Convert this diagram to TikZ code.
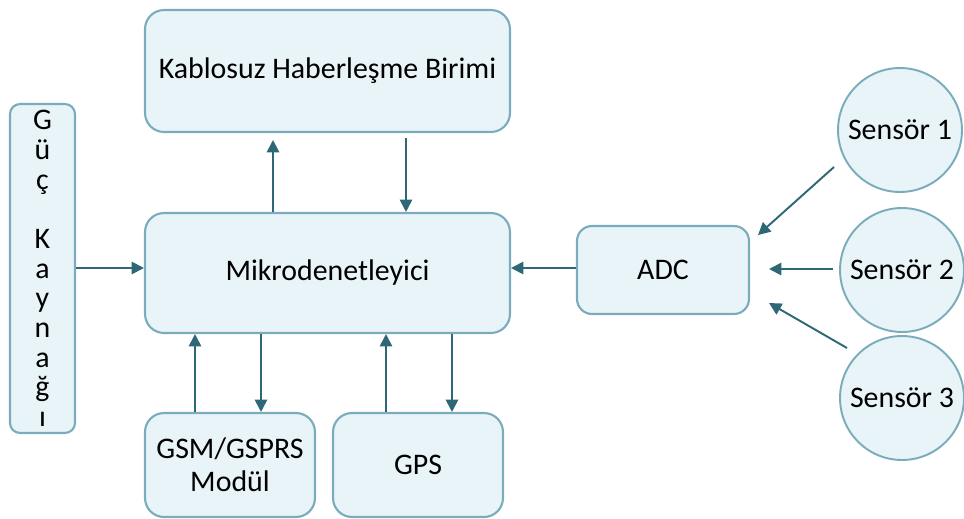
\documentclass[tikz,border=0pt]{standalone}
\usepackage{fontspec}
\setmainfont{Carlito}
\usetikzlibrary{arrows.meta}
\definecolor{boxfill}{RGB}{233,244,248}
\definecolor{boxline}{RGB}{122,172,188}
\definecolor{arrowcol}{RGB}{46,104,118}
\tikzset{
  blk/.style={draw=boxline, fill=boxfill, line width=1.2pt, rounded corners=0.38cm,
    inner sep=0pt, align=center, font=\fontsize{17}{20}\selectfont},
  sens/.style={draw=boxline, fill=boxfill, line width=1.1pt, circle,
    minimum size=2.48cm, inner sep=0pt, font=\fontsize{17}{20}\selectfont},
  link/.style={draw=arrowcol, line width=1.1pt, -{Triangle[length=7pt,width=7pt]}}
}
\begin{document}
\begin{tikzpicture}[x=0.02cm,y=-0.02cm]
  \useasboundingbox (0,0) rectangle (964,518);
  % blocks
  \node[blk, minimum width=7.3cm, minimum height=2.44cm] (wl) at (327.5,71) {Kablosuz Haberleşme Birimi};
  \node[blk, minimum width=7.3cm, minimum height=2.4cm] (mcu) at (327.5,273) {Mikrodenetleyici};
  \node[blk, minimum width=1.3cm, minimum height=6.58cm, rounded corners=0.2cm,
        font=\fontsize{17}{16.9}\selectfont] (pwr) at (42.5,268.5)
        {G\\ü\\ç\\~\\K\\a\\y\\n\\a\\ğ\\ı};
  \node[blk, minimum width=3.4cm, minimum height=2.08cm, font=\fontsize{17}{18.8}\selectfont] (gsm) at (230,465) {GSM/GSPRS\\Modül};
  \node[blk, minimum width=3.4cm, minimum height=2.08cm] (gps) at (418,465) {GPS};
  \node[blk, minimum width=3.44cm, minimum height=1.76cm, rounded corners=0.3cm] (adc) at (663,270) {ADC};
  % sensors
  \node[sens] (s1) at (900,130) {Sensör 1};
  \node[sens] (s2) at (902,270) {Sensör 2};
  \node[sens] (s3) at (902,398) {Sensör 3};
  % helper points for the sensor arrows
  \coordinate (s1a) at (834,167);
  \coordinate (s1b) at (758,235);
  \coordinate (s2a) at (833,269);
  \coordinate (s2b) at (769,269);
  \coordinate (s3a) at (847,348);
  \coordinate (s3b) at (769,303);
  % connections
  \draw[link] (pwr.east |- 0,268) -- (mcu.west |- 0,268);
  \draw[link] (mcu.north -| 273,0) -- (273,140);
  \draw[link] (406,138) -- (mcu.north -| 406,0);
  \draw[link] (gsm.north -| 195,0) -- (mcu.south -| 195,0);
  \draw[link] (mcu.south -| 261,0) -- (gsm.north -| 261,0);
  \draw[link] (gps.north -| 386,0) -- (mcu.south -| 386,0);
  \draw[link] (mcu.south -| 452,0) -- (gps.north -| 452,0);
  \draw[link] (adc.west |- 0,268) -- (mcu.east |- 0,268);
  \draw[link] (s1a) -- (s1b);
  \draw[link] (s2a) -- (s2b);
  \draw[link] (s3a) -- (s3b);
\end{tikzpicture}
\end{document}
